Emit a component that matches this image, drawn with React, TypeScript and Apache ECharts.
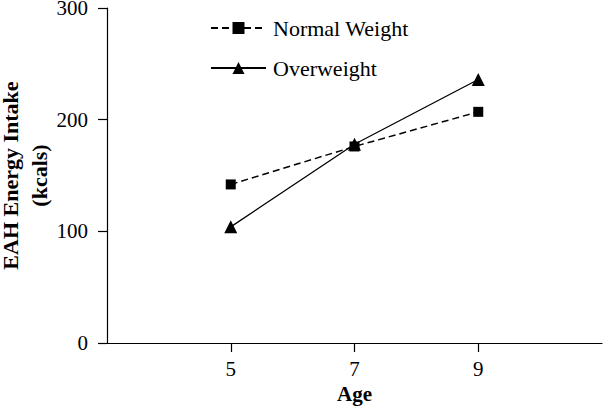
import React, { useEffect, useRef } from "react";
import * as echarts from "echarts";

const ages = [5, 7, 9];
const normalWeight = [142, 176, 207];
const overweight = [104, 178, 236];
const yTicks = [0, 100, 200, 300];
const seriesNames = ["Normal Weight", "Overweight"];

const FONT = "'Liberation Serif', 'Times New Roman', Times, serif";

export default function App() {
  const ref = useRef<HTMLDivElement>(null);
  useEffect(() => {
    if (!ref.current) return;
    const chart = echarts.init(ref.current, null, { renderer: "svg" });
    chart.setOption({
      animation: false,
      backgroundColor: "#fff",
      textStyle: { fontFamily: FONT, color: "#000" },
      grid: { left: 107, right: 7, top: 8, bottom: 67, containLabel: false, outerBoundsMode: "none" },
      legend: {
        orient: "vertical",
        left: 210,
        top: 17,
        padding: 0,
        itemWidth: 55,
        itemHeight: 15,
        itemGap: 18,
        textStyle: { fontFamily: FONT, fontSize: 22, color: "#000", padding: [0, 0, 0, 2] },
        data: seriesNames,
      },
      xAxis: {
        type: "value",
        min: 3,
        max: 11,
        interval: 2,
        name: "Age",
        nameLocation: "middle",
        nameGap: 40,
        nameMoveOverlap: false,
        nameTextStyle: { fontFamily: FONT, fontSize: 21, fontWeight: "bold", color: "#000" },
        splitLine: { show: false },
        axisLine: { onZero: false, lineStyle: { color: "#000", width: 1.2 } },
        axisTick: { show: true, length: 9, customValues: ages, lineStyle: { color: "#000", width: 1.2 } },
        axisLabel: { customValues: ages, margin: 15, fontFamily: FONT, fontSize: 21, color: "#000" },
      },
      yAxis: {
        type: "value",
        min: 0,
        max: 300,
        interval: 100,
        name: "EAH Energy Intake\n(kcals)",
        nameLocation: "middle",
        nameGap: 53,
        nameMoveOverlap: false,
        nameTextStyle: { fontFamily: FONT, fontSize: 22, fontWeight: "bold", color: "#000", lineHeight: 29 },
        splitLine: { show: false },
        axisLine: { show: true, lineStyle: { color: "#000", width: 1.2 } },
        axisTick: { show: true, length: 9, customValues: yTicks, lineStyle: { color: "#000", width: 1.2 } },
        axisLabel: { customValues: yTicks, margin: 19, fontFamily: FONT, fontSize: 21, color: "#000" },
      },
      series: [
        {
          name: seriesNames[0],
          type: "line",
          data: ages.map((a, i) => [a, normalWeight[i]]),
          symbol: "rect",
          symbolSize: 10,
          itemStyle: { color: "#000" },
          lineStyle: { color: "#000", width: 1.5, type: [7, 4] },
        },
        {
          name: seriesNames[1],
          type: "line",
          data: ages.map((a, i) => [a, overweight[i]]),
          symbol: "triangle",
          symbolSize: 13,
          itemStyle: { color: "#000" },
          lineStyle: { color: "#000", width: 1.3, type: "solid" },
        },
      ],
    });
    return () => chart.dispose();
  }, []);
  return (
    <div
      ref={ref}
      style={{ position: "fixed", left: 0, top: 0, width: 609, height: 410 }}
    />
  );
}
